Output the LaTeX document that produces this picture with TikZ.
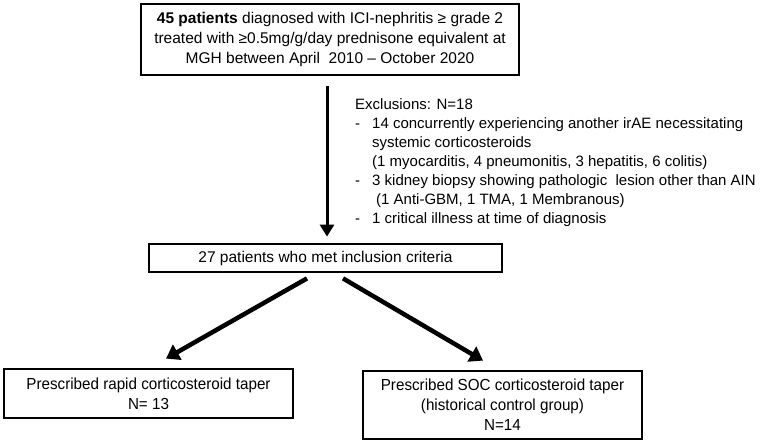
\documentclass[tikz,border=0pt]{standalone}
\usepackage{fontspec}
\setmainfont{Liberation Sans}
\newfontfamily\narrowfont[FakeStretch=0.95]{Liberation Sans}
\usetikzlibrary{arrows.meta}
\begin{document}
\begin{tikzpicture}[x=1pt,y=1pt,
  box/.style={draw=black, line width=2.8pt, inner sep=0pt, align=center,
    font=\fontsize{15.5}{20}\selectfont},
  lowbox/.style={box, font=\narrowfont\fontsize{16}{20}\selectfont},
  arr/.style={line width=3pt, -{Triangle[width=14pt,length=12pt]}},
  darr/.style={line width=4.5pt, -{Triangle[width=17pt,length=13pt]}},
  exnote/.style={align=left, inner sep=0pt, anchor=north west,
    font=\fontsize{15}{19}\selectfont}
]
\useasboundingbox (0,0) rectangle (767,444);
\fill[white] (0,0) rectangle (767,444);

\node[box, minimum width=378pt, minimum height=71pt] (top) at (330,404.5)
  {{\bfseries 45 patients} diagnosed with ICI-nephritis ≥ grade 2\\
   treated with ≥0.5mg/g/day prednisone equivalent at\\
   MGH between April\ \ 2010 – October 2020};

\node[box, minimum width=353pt, minimum height=28pt] (mid) at (325.5,186)
  {27 patients who met inclusion criteria};

\node[lowbox, minimum width=289pt, minimum height=49pt] (left) at (148.5,50.5)
  {Prescribed rapid corticosteroid taper\\ N= 13};

\node[lowbox, minimum width=279pt, minimum height=68pt] (right) at (502.5,39)
  {Prescribed SOC corticosteroid taper\\ (historical control group)\\ N=14};

\node[exnote] (excl) at (355,346)
  {Exclusions: N=18\\
   \makebox[17pt][l]{-}14 concurrently experiencing another irAE necessitating\\
   \hspace*{17pt}systemic corticosteroids\\
   \hspace*{17pt}(1 myocarditis, 4 pneumonitis, 3 hepatitis, 6 colitis)\\
   \makebox[17pt][l]{-}3 kidney biopsy showing pathologic\ \ lesion other than AIN\\
   \hspace*{21pt}(1 Anti-GBM, 1 TMA, 1 Membranous)\\
   \makebox[17pt][l]{-}1 critical illness at time of diagnosis};

\coordinate (vx) at (327,0);
\draw[arr, shorten <=10pt, shorten >=6pt] (top.south -| vx) -- (mid.north -| vx);

\draw[darr] ([xshift=-18.5pt,yshift=-5pt]mid.south) -- ([xshift=17.5pt,yshift=9pt]left.north);
\draw[darr] ([xshift=17.5pt,yshift=-5pt]mid.south) -- ([xshift=-19.5pt,yshift=9pt]right.north);
\end{tikzpicture}
\end{document}
